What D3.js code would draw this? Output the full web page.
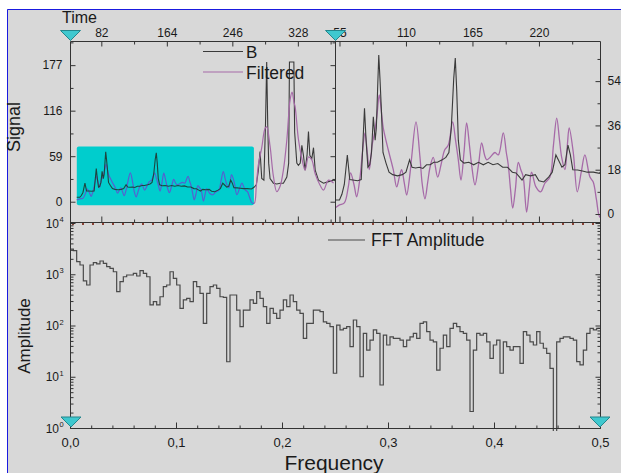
<!DOCTYPE html>
<html><head><meta charset="utf-8">
<script src="https://cdn.jsdelivr.net/npm/d3@7"></script>
<style>
body{margin:0;background:#fff}
svg{display:block}
text{font-family:"Liberation Sans",Arial,sans-serif}
</style>
</head><body>
<svg id="c" width="621" height="473"></svg>
<script>
// ---------- data ----------
const timeB = [51.3,55,57,59,61.5,63.5,66,70,73,74.5,75.7,77,78.5,80,81.5,83,84.5,85.5,86.5,87.5,88.5,89.7,91,93.5,96,99,103,107,110,113,115,118,121,124,127,130,133,136,140,143,145.5,147.5,149.5,150.8,152,153.3,155,158,162,166,170,174,178,182,186,190,194,198,201,204,206,209,213,217,220,224,228,231,234,236,239,241.5,244,246,248,252,256,260,265,270,273.5,276,278.5,280.7,282.8,285.5,287.5,289,290.3,291.5,293.2,297.4,301.6,305.8,309.9,314.2,316.5,317.5,323,324,326.7,328.7,331,333,335,337.1,339.5,341.3,343,345.5,347.6,349.7,353.8,360.1,366.4,372.7,374.5];
const valB = [5.7,5.7,8,12,24,14,13.8,13.5,14,30,43,30,19,20,25,39.5,30,35,50,64.6,55,42,25,20.7,17,16,15.5,16,17,22,19,18.7,19,18.5,20,20,21,21,22,23,25,35,55,63.4,50,30,22,20.7,21,20,21,20,21,20,20.5,19,19,17,16.7,15,13.8,16,15.5,16,13.5,13,15,17,24,22,19,20,28,24,18,17.9,17.5,17,17,16.5,19,22,40,65,30,28,100,181,100,50,30,24,23,24,24,32,50,181,181,90,50,47,50,73,60,41,60,91,60,56,70,41,28,24,26,28,27];
const timeF = [51.3,55,59,62.3,64.2,67,69.2,72,74,76.1,78,79.7,82,84,86,87.9,90,91.2,95.4,99.5,102.3,104.5,106.4,108.5,110.6,113,114.7,118.3,121.6,123.5,125.7,128,129.9,132.6,136.2,139,142,145,148.6,151,153.3,155.5,158,160.2,162.5,164.3,167.1,170,172.6,175,176.8,179.5,183.6,186.4,190.5,193,194.6,196.5,198.3,200.5,202.9,205,207,209.8,212,213.9,217.5,221.4,225,229.1,232,234.7,237,238.8,241.5,243.5,245,248.4,251.7,255,258,262.2,264.9,267.6,270.3,273.5,276,278.5,282.8,286.9,289,293.2,297.4,301.6,305.8,309.9,314.2,318.3,320.8,323.3,324.6,328.7,333,337.1,341.3,345.5,349.7,356,360.1,366.4,372.7];
const valF = [2.4,3.7,4.5,11,16.7,12,7,15,25,33,25,18,28,33,40,48.4,40,35,26,18,11,15,18,13,7.7,15,23,37.4,23,12,6.2,13,19,23,15,20,26,28,37.4,30,22,13.8,25,37,28,20,11.8,20,28.9,24,22,23,25,24,33,25,20,10,2.4,10,21,18,15,0.8,10,17,11,9,12.6,15,28,39,30,23,18,28,35,25,9,17,24,15,13,5.7,-1.2,-2,20,47,70,95,97,72,33,13,20,41,80,132,142,128,123,81,56,41,58,54,36,21,15,28,24];
const fftAmp = [3080,2900,1760,1515,740,617,1515,1690,1600,1815,1630,1410,1300,1120,457,716,894,966,966,1042,925,1175,1042,894,252,292,252,364,572,617,1120,830,617,216,315,339,292,716,572,424,110,424,572,617,532,364,355,19.6,394,394,200,95,200,200,315,271,457,339,233,110,216,173,138,200,315,233,394,292,200,173,56,110,110,200,200,186,118,110,95,11.7,102,82,88,95,38.6,128,95,10,70,33,52,82,70,6.9,65,41.6,60,56,56,52,38.6,52,60,70,56,110,118,76,52,48,13.5,36,65,38.6,88,110,95,76,70,52,2.1,33,70,65,70,48,22.9,41.6,52,11.7,48,38.6,33,38.6,38.6,18.3,76,65,48,41.6,76,45,36,28.7,14.6,0.5,48,56,60,60,56,52,19.7,17,33,70,88,82,88];
const zoomRange = [51.3, 270.5];          // region shown in right panel
const zoomSignal = [-3.25, 70.3];
const timeTicksL = [82,164,246,328];
const timeMinorL = [123,205,287,369];
const signalTicks = [0,59,118,177];
const signalTickLabels = ["0","59","116","177"];
const signalMinor = [29.5,88.5,147.5,206.5];
const timeTicksR = [55,110,165,220];
const timeMinorR = [82.5,137.5,192.5,247.5];
const rightTicks = [0,18,36,54];
const rightMinor = [9,27,45,63];
const freqTicks = [0,0.1,0.2,0.3,0.4,0.5];
const freqTickLabels = ["0,0","0,1","0,2","0,3","0,4","0,5"];
const ampTicks = [1,10,100,1000,10000];
const ampExp = ["0","1","2","3","4"];

// ---------- scales ----------
const xL = d3.scaleLinear().domain([42.8,374.5]).range([70,335]);
const yL = d3.scaleLinear().domain([-26.3,208.3]).range([222,41]);
const xR = d3.scaleLinear().domain([51.3,270.5]).range([335,600]);
const yR = d3.scaleLinear().domain(zoomSignal).range([222,41]);
const xF = d3.scaleLinear().domain([0,0.5]).range([70,600]);
const yF = d3.scaleLog().domain([1,10000]).range([428,223]);

const svg = d3.select("#c");
const FONT = '"Liberation Sans",Arial,sans-serif';
svg.append("rect").attr("width",621).attr("height",473).attr("fill","#fff");
svg.append("rect").attr("x",7).attr("y",9).attr("width",614).attr("height",464).attr("fill","#d8d8d8");
svg.append("path").attr("d","M7.5,473V9.5H621").attr("stroke","#1a1ae0").attr("fill","none");

const defs = svg.append("defs");
function clip(id,x,y,w,h){defs.append("clipPath").attr("id",id).append("rect").attr("x",x).attr("y",y).attr("width",w).attr("height",h);}
clip("cL",70,41,265,181);
clip("cR",335,41,265,181);
clip("cF",70,223,530,208);
const rx0 = xL(zoomRange[0]), rx1 = xL(zoomRange[1]) + 2;
const ry0 = yL(zoomSignal[1]) - 1, ry1 = yL(zoomSignal[0]) + 1;
clip("cRect",rx0,ry0,rx1-rx0,ry1-ry0);

const idx = (a)=>a.map((_,i)=>i);
const purple = "#a66aa8", black = "#3a3a3a";

// ---------- left panel lines ----------
const lineBL = d3.line().x(i=>xL(timeB[i])).y(i=>yL(valB[i]));
const lineFL = d3.line().x(i=>xL(timeF[i])).y(i=>yL(valF[i])).curve(d3.curveCatmullRom.alpha(0.5));
const gL = svg.append("g").attr("clip-path","url(#cL)");
gL.append("path").attr("d",lineBL(idx(timeB))).attr("fill","none").attr("stroke",black).attr("stroke-width",1.1);
gL.append("path").attr("d",lineFL(idx(timeF))).attr("fill","none").attr("stroke",purple).attr("stroke-width",1.2);
// highlight rectangle
svg.append("rect").attr("x",rx0).attr("y",ry0).attr("width",rx1-rx0).attr("height",ry1-ry0)
  .attr("rx",2).attr("fill","#00cdcd");
const gH = svg.append("g").attr("clip-path","url(#cRect)");
gH.append("path").attr("d",lineFL(idx(timeF))).attr("fill","none").attr("stroke","#5560d0").attr("stroke-width",1.2);
gH.append("path").attr("d",lineBL(idx(timeB))).attr("fill","none").attr("stroke","#1c4640").attr("stroke-width",1.1);

// ---------- right panel lines ----------
const lineBR = d3.line().x(i=>xR(timeB[i])).y(i=>yR(valB[i]));
const lineFR = d3.line().x(i=>xR(timeF[i])).y(i=>yR(valF[i])).curve(d3.curveCatmullRom.alpha(0.5));
const gR = svg.append("g").attr("clip-path","url(#cR)");
gR.append("path").attr("d",lineFR(idx(timeF))).attr("fill","none").attr("stroke",purple).attr("stroke-width",1.3);
gR.append("path").attr("d",lineBR(idx(timeB))).attr("fill","none").attr("stroke",black).attr("stroke-width",1.1);

// ---------- FFT step line ----------
const binW = 0.5/fftAmp.length;
const fftPts = fftAmp.map((v,i)=>[i*binW,v]).concat([[0.5,fftAmp[fftAmp.length-1]]]);
const lineFFT = d3.line().x(d=>xF(d[0])).y(d=>yF(Math.max(d[1],0.3))).curve(d3.curveStepAfter);
svg.append("g").attr("clip-path","url(#cF)").append("path").attr("d",lineFFT(fftPts))
  .attr("fill","none").attr("stroke","#4a4a4a").attr("stroke-width",1.2);

// dotted line on top of bottom panel
svg.append("line").attr("x1",72).attr("x2",600).attr("y1",224).attr("y2",224)
  .attr("stroke","#8a4436").attr("stroke-width",2).attr("stroke-dasharray","2 8");

// ---------- frame ----------
svg.append("path").attr("d","M70.5,41.5H600.5M70.5,41.5V428.5M600.5,41.5V428.5M335.5,41.5V222.5M70.5,222.5H600.5M70.5,428.5H600.5")
  .attr("stroke","#333").attr("fill","none");

// ---------- axes ----------
function drawAxis(fn, scale, tx, ty, vals, size, labels, pad, fs){
  const a = fn(scale).tickValues(vals).tickSize(size).tickPadding(pad||5)
    .tickFormat(labels ? (d,i)=>labels[i] : ()=>"");
  const g = svg.append("g").attr("transform",`translate(${tx},${ty})`).call(a);
  g.select(".domain").remove();
  g.attr("font-family",FONT).attr("font-size",fs||12);
  g.selectAll(".tick line").attr("stroke","#333");
  g.selectAll(".tick text").attr("fill","#1a1a1a");
  return g;
}
// top-left panel
drawAxis(d3.axisTop, xL, 0, 41.5, timeTicksL, -5, timeTicksL.map(String), 5);
drawAxis(d3.axisTop, xL, 0, 41.5, timeMinorL, -3);
drawAxis(d3.axisBottom, xL, 0, 222.5, timeTicksL, -6);
drawAxis(d3.axisBottom, xL, 0, 222.5, timeMinorL, -3);
drawAxis(d3.axisLeft, yL, 70.5, 0, signalTicks, -5, signalTickLabels, 8);
drawAxis(d3.axisLeft, yL, 70.5, 0, signalMinor, -3);
drawAxis(d3.axisRight, yL, 335.5, 0, signalTicks, -5);
drawAxis(d3.axisRight, yL, 335.5, 0, signalMinor, -3);
// top-right panel
drawAxis(d3.axisTop, xR, 0, 41.5, timeTicksR, -5, timeTicksR.map(String), 5);
drawAxis(d3.axisTop, xR, 0, 41.5, timeMinorR, -3);
drawAxis(d3.axisBottom, xR, 0, 222.5, timeTicksR, -6);
drawAxis(d3.axisBottom, xR, 0, 222.5, timeMinorR, -3);
drawAxis(d3.axisRight, yR, 600.5, 0, rightTicks, -5, rightTicks.map(String), 7);
drawAxis(d3.axisRight, yR, 600.5, 0, rightMinor, -3);
// bottom panel
const freqMinor = d3.range(0,0.5001,0.02).filter(v=>Math.abs(v*10-Math.round(v*10))>1e-6);
drawAxis(d3.axisBottom, xF, 0, 428.5, freqTicks, -6, freqTickLabels, 9, 13);
drawAxis(d3.axisBottom, xF, 0, 428.5, freqMinor, -3);
const ampMinor = [];
[1,10,100,1000].forEach(b=>{for(let k=2;k<=9;k++) ampMinor.push(b*k);});
drawAxis(d3.axisLeft, yF, 70.5, 0, ampTicks, -5);
drawAxis(d3.axisLeft, yF, 70.5, 0, ampMinor, -3);
drawAxis(d3.axisRight, yF, 600.5, 0, ampTicks, -5);
drawAxis(d3.axisRight, yF, 600.5, 0, ampMinor, -3);
// log labels 10^n
const lg = svg.append("g").attr("font-family",FONT).attr("fill","#1a1a1a");
ampTicks.forEach((v,i)=>{
  lg.append("text").attr("x",59).attr("y",yF(v)+4.5).attr("text-anchor","end").attr("font-size",12).text("10");
  lg.append("text").attr("x",59.5).attr("y",yF(v)-1).attr("font-size",7.5).text(ampExp[i]);
});

// ---------- titles ----------
const t = svg.append("g").attr("font-family",FONT).attr("fill","#1a1a1a");
t.append("text").attr("x",62).attr("y",23).attr("font-size",16).text("Time");
t.append("text").attr("transform","translate(20,127) rotate(-90)").attr("text-anchor","middle").attr("font-size",18).text("Signal");
t.append("text").attr("transform","translate(30,336) rotate(-90)").attr("text-anchor","middle").attr("font-size",17).text("Amplitude");
t.append("text").attr("x",334).attr("y",470).attr("text-anchor","middle").attr("font-size",21).text("Frequency");

// legends
svg.append("line").attr("x1",203).attr("x2",243).attr("y1",51.5).attr("y2",51.5).attr("stroke",black).attr("stroke-width",1.1);
t.append("text").attr("x",246).attr("y",57.5).attr("font-size",17).text("B");
svg.append("line").attr("x1",203).attr("x2",243).attr("y1",72).attr("y2",72).attr("stroke",purple).attr("stroke-width",1.2);
t.append("text").attr("x",246).attr("y",78.5).attr("font-size",17.5).text("Filtered");
svg.append("line").attr("x1",328).attr("x2",365).attr("y1",240).attr("y2",240).attr("stroke","#4a4a4a").attr("stroke-width",1.2);
t.append("text").attr("x",371).attr("y",245.5).attr("font-size",17.5).text("FFT Amplitude");

// ---------- cyan markers ----------
function tri(cx,top){
  svg.append("path").attr("d",`M${cx-10},${top}L${cx+10},${top}L${cx},${top+10}Z`)
    .attr("fill","#3fc8cf").attr("stroke","#23868c").attr("stroke-width",1);
}
tri(70.5,30.5); tri(335.5,30.5); tri(71,417); tri(600,417);
</script>
</body></html>
